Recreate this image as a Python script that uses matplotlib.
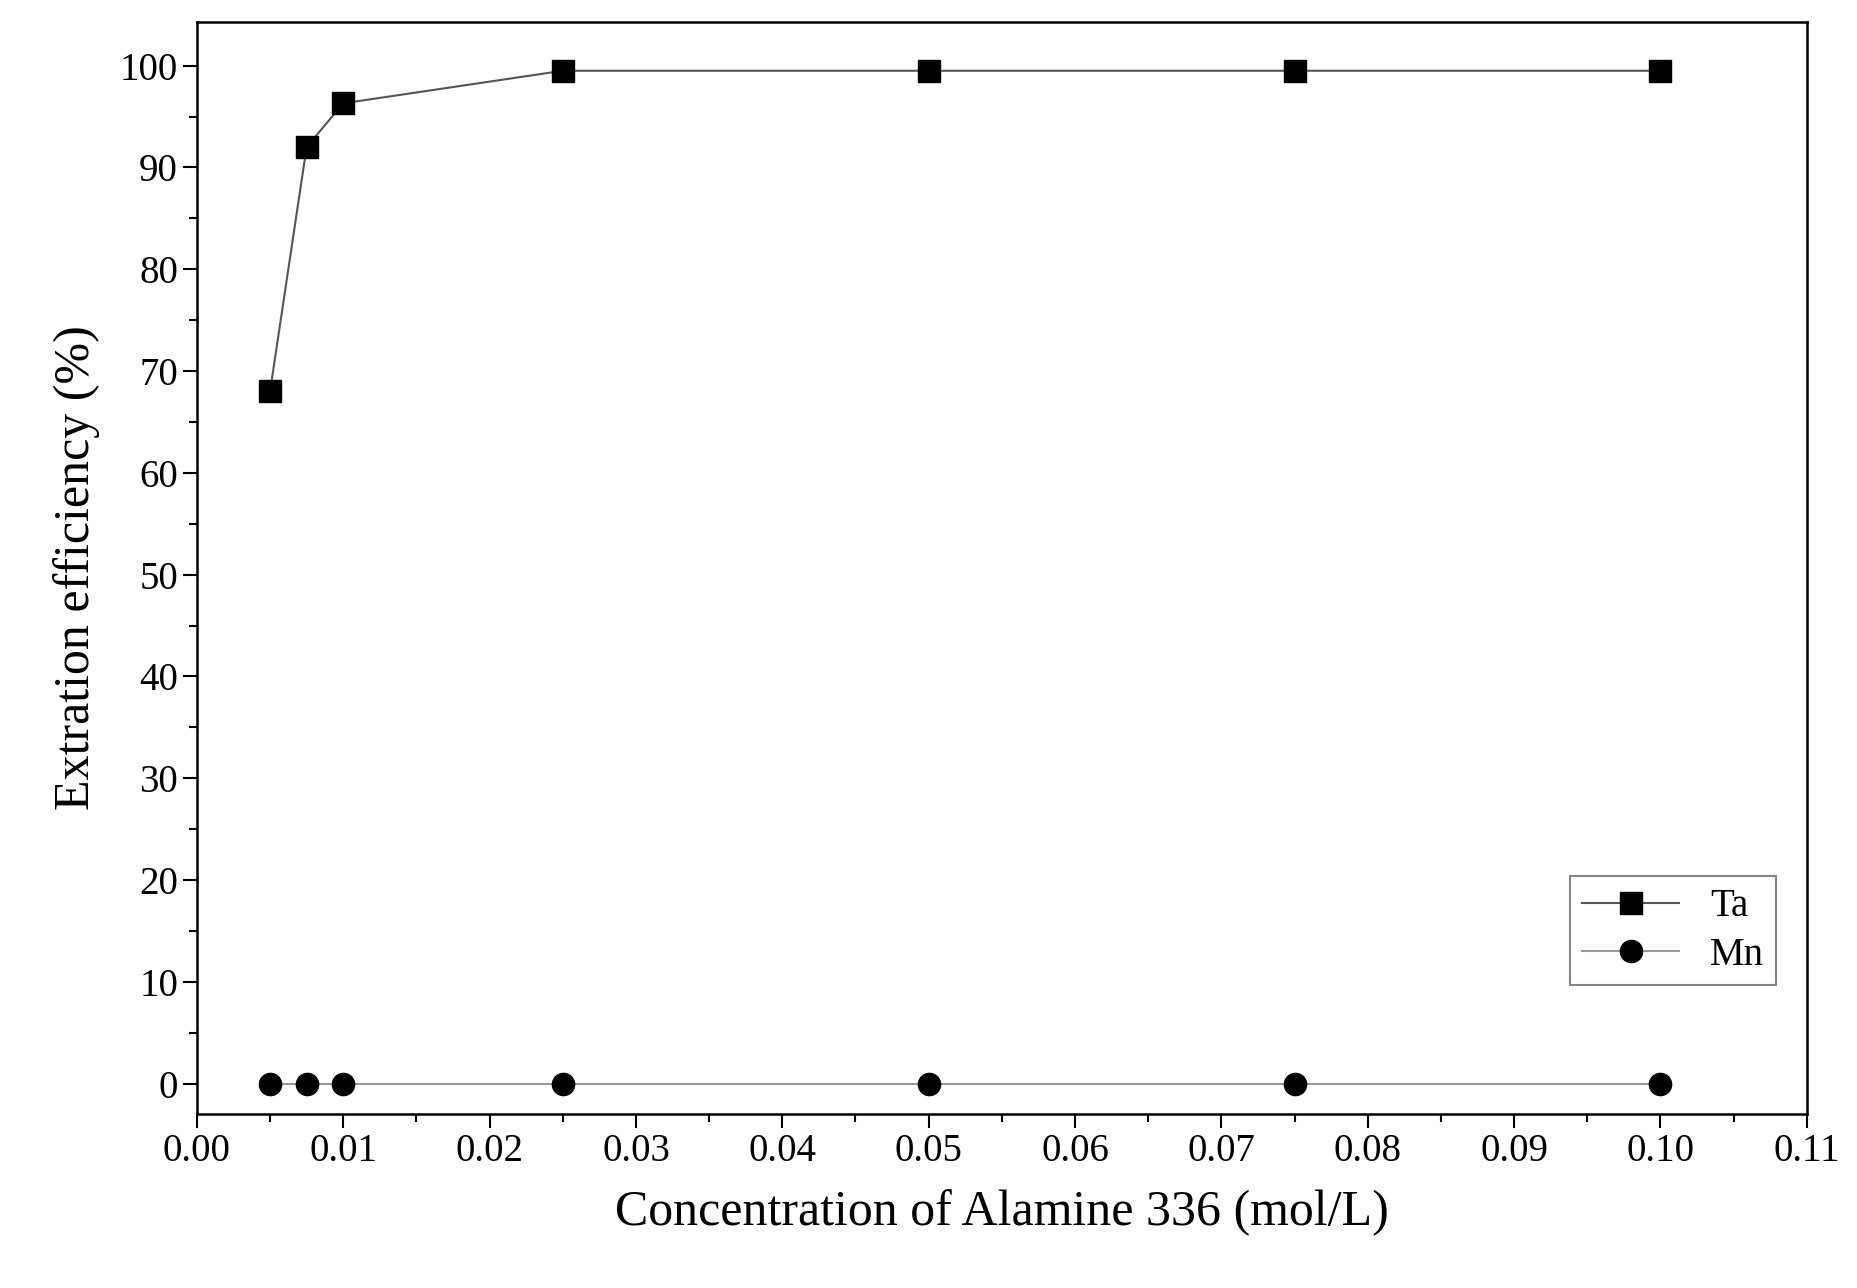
import matplotlib.pyplot as plt
from matplotlib.ticker import MultipleLocator

plt.rcParams['font.family'] = ['Liberation Serif', 'DejaVu Serif']

conc = [0.005, 0.0075, 0.01, 0.025, 0.05, 0.075, 0.1]
ta = [68.0, 92.0, 96.3, 99.5, 99.5, 99.5, 99.5]
mn = [0, 0, 0, 0, 0, 0, 0]

fig = plt.figure(figsize=(18.57, 12.88), dpi=100)
ax = fig.add_axes([0.106, 0.135, 0.867, 0.848])

ax.plot(conc, ta, color='#555555', lw=1.5, marker='s', ms=16, mfc='black', mec='black', label='Ta')
ax.plot(conc, mn, color='#999999', lw=1.5, marker='o', ms=16, mfc='black', mec='black', label='Mn')

ax.set_xlim(0, 0.11)
ax.set_ylim(-3, 104.3)
ax.xaxis.set_major_locator(MultipleLocator(0.01))
ax.xaxis.set_minor_locator(MultipleLocator(0.005))
ax.yaxis.set_major_locator(MultipleLocator(10))
ax.yaxis.set_minor_locator(MultipleLocator(5))
ax.set_xticklabels([f'{v:.2f}' for v in ax.get_xticks()])
ax.tick_params(which='both', direction='out', labelsize=28, width=1.5)
ax.tick_params(which='major', length=10)
ax.tick_params(which='minor', length=6)
for s in ax.spines.values():
    s.set_linewidth(1.8)

ax.set_xlabel('Concentration of Alamine 336 (mol/L)', fontsize=36, labelpad=14)
ax.set_ylabel('Extration efficiency (%)', fontsize=36, labelpad=14)

leg = ax.legend(loc='lower right', bbox_to_anchor=(0.993, 0.1), fontsize=28, fancybox=False,
                edgecolor='#666666', handlelength=2.5, borderpad=0.3, labelspacing=0.3)
leg.get_frame().set_linewidth(1.5)

fig.savefig('out.png')
